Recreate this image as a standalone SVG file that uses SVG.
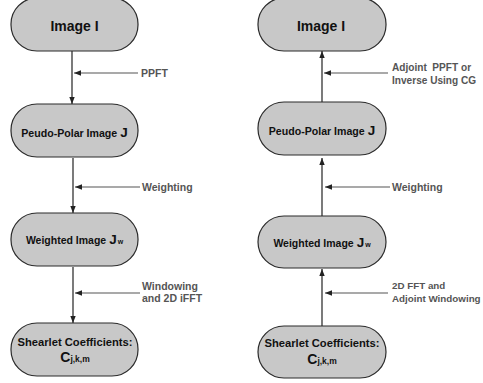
<svg xmlns="http://www.w3.org/2000/svg" width="483" height="383" viewBox="0 0 483 383">
<defs>
<style>
.node{fill:#c8c8c8;stroke:#2a2a2a;stroke-width:1.2}
.nt{font-family:"Liberation Sans",Arial,sans-serif;font-weight:bold;fill:#111;text-anchor:middle}
.lbl{font-family:"Liberation Sans",Arial,sans-serif;font-weight:bold;fill:#555;font-size:10.5px}
.v{stroke:#333;stroke-width:1.3;fill:none}
.h{stroke:#555;stroke-width:1.2;fill:none}
</style>
<marker id="ah" markerWidth="8" markerHeight="8" refX="7" refY="4" orient="auto" markerUnits="userSpaceOnUse">
<path d="M0,1.3 L7,4 L0,6.7 Z" fill="#222"/>
</marker>
</defs>
<rect width="483" height="383" fill="#fff"/>
<g id="connectors">
<line class="v" x1="72" y1="51" x2="72" y2="104" marker-end="url(#ah)"/>
<line class="h" x1="138" y1="73" x2="74" y2="73" marker-end="url(#ah)"/>
<line class="v" x1="73" y1="158" x2="73" y2="213" marker-end="url(#ah)"/>
<line class="h" x1="140" y1="187" x2="75" y2="187" marker-end="url(#ah)"/>
<line class="v" x1="73" y1="267" x2="73" y2="323" marker-end="url(#ah)"/>
<line class="h" x1="140" y1="293" x2="75" y2="293" marker-end="url(#ah)"/>
<line class="v" x1="322" y1="102" x2="322" y2="51" marker-end="url(#ah)"/>
<line class="h" x1="388" y1="73" x2="324" y2="73" marker-end="url(#ah)"/>
<line class="v" x1="322" y1="216" x2="322" y2="158" marker-end="url(#ah)"/>
<line class="h" x1="390" y1="187" x2="325" y2="187" marker-end="url(#ah)"/>
<line class="v" x1="322" y1="326" x2="322" y2="269" marker-end="url(#ah)"/>
<line class="h" x1="388" y1="293" x2="325" y2="293" marker-end="url(#ah)"/>
</g>
<g id="labels">
<text class="lbl" x="141" y="77">PPFT</text>
<text class="lbl" x="142" y="191">Weighting</text>
<text class="lbl" x="142" y="290">Windowing</text>
<text class="lbl" x="142" y="302">and 2D iFFT</text>
<text class="lbl" x="392" y="71" style="font-size:10.1px;white-space:pre" xml:space="preserve">Adjoint  PPFT or</text>
<text class="lbl" x="392" y="84" style="font-size:10.1px">Inverse Using CG</text>
<text class="lbl" x="392" y="191">Weighting</text>
<text class="lbl" x="392" y="289" style="font-size:9.8px">2D FFT and</text>
<text class="lbl" x="392" y="302" style="font-size:9.8px">Adjoint Windowing</text>
</g>
<g id="L1">
<rect class="node" x="11" y="-2" width="127" height="53" rx="26" ry="26"/>
<text class="nt" x="74.5" y="30.5" font-size="14">Image I</text>
</g>
<g id="L2">
<rect class="node" x="11" y="104" width="127" height="53" rx="26" ry="26"/>
<text class="nt" x="74.5" y="137" font-size="10.6">Peudo-Polar Image <tspan font-size="13.5">J</tspan></text>
</g>
<g id="L3">
<rect class="node" x="11" y="213" width="127" height="53" rx="26" ry="26"/>
<text class="nt" x="74.5" y="244" font-size="10.5">Weighted Image <tspan font-size="13.5">J</tspan><tspan font-size="7" dx="1">w</tspan></text>
</g>
<g id="L4">
<rect class="node" x="11" y="323" width="127" height="53" rx="26" ry="26"/>
<text class="nt" x="75" y="346" font-size="11.2">Shearlet Coefficients:</text>
<text class="nt" x="75" y="362" font-size="14">C<tspan font-size="8.5">j,k,m</tspan></text>
</g>
<g id="R1">
<rect class="node" x="258" y="-2" width="128" height="53" rx="26" ry="26"/>
<text class="nt" x="321" y="30.5" font-size="14">Image I</text>
</g>
<g id="R2">
<rect class="node" x="258" y="102" width="128" height="53" rx="26" ry="26"/>
<text class="nt" x="322" y="135" font-size="10.6">Peudo-Polar Image <tspan font-size="13.5">J</tspan></text>
</g>
<g id="R3">
<rect class="node" x="258" y="216" width="128" height="52" rx="26" ry="26"/>
<text class="nt" x="322" y="247" font-size="10.5">Weighted Image <tspan font-size="13.5">J</tspan><tspan font-size="7" dx="1">w</tspan></text>
</g>
<g id="R4">
<rect class="node" x="258" y="326" width="128" height="52" rx="26" ry="26"/>
<text class="nt" x="322" y="347" font-size="11.2">Shearlet Coefficients:</text>
<text class="nt" x="322" y="364" font-size="14">C<tspan font-size="8.5">j,k,m</tspan></text>
</g>
</svg>
